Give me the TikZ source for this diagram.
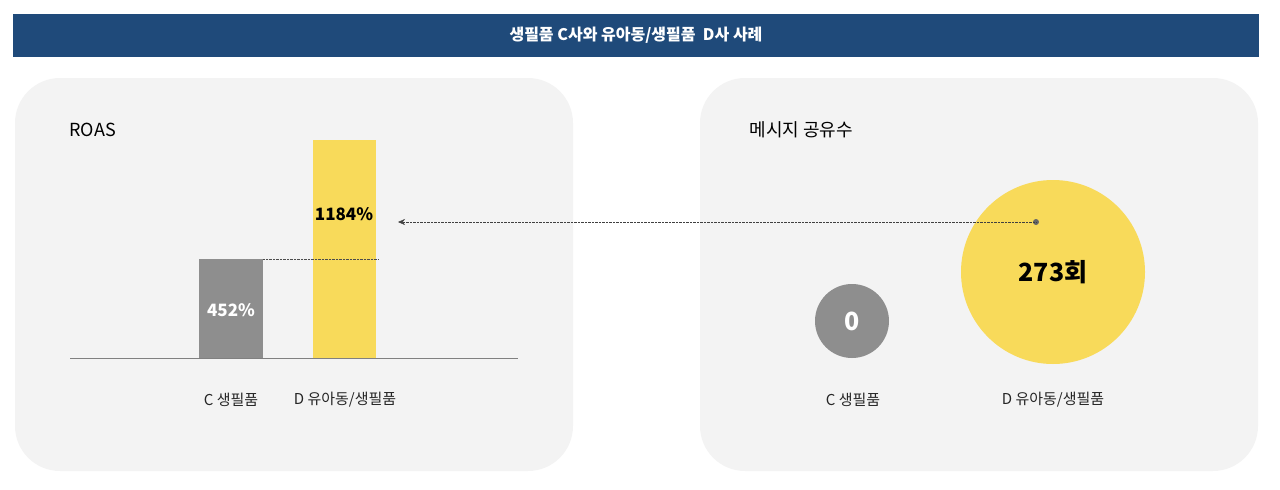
\documentclass[tikz,border=0pt]{standalone}
\usepackage{fontspec}
\setmainfont{Noto Sans CJK KR}
\usetikzlibrary{arrows.meta}
\definecolor{navy}{HTML}{1F4A7A}
\definecolor{panel}{HTML}{F3F3F3}
\definecolor{barYellow}{HTML}{F8DA5A}
\definecolor{barGray}{HTML}{8E8E8E}
\begin{document}
\begin{tikzpicture}[x=1pt,y=-1pt,
  panelbox/.style={fill=panel,draw=none,rounded corners=45pt},
  lab/.style={font=\fontsize{15}{17}\selectfont,text=black!85},
  val/.style={font=\bfseries\fontsize{17}{19}\selectfont}]
\useasboundingbox (0,0) rectangle (1280,490);
\fill[navy] (13,14) rectangle (1259,57);
\node[text=white,font=\bfseries\fontsize{16}{18}\selectfont] (title) at (636,35.5) {생필품 C사와 유아동/생필품\ \ D사 사례};
\path[panelbox] (15,78) rectangle (573,471);
\path[panelbox] (700,78) rectangle (1258,471);
\node[anchor=west,font=\fontsize{18}{20}\selectfont] (roas) at (66,130) {ROAS};
\draw[gray,line width=0.8pt] (70,358) -- (518,358);
\fill[barGray] (199,259) rectangle (263,358);
\fill[barYellow] (313,140) rectangle (376,358);
\draw[densely dotted,black!70] (263,259) -- (378,259);
\node[val,text=white] (v1) at (231,310) {452\%};
\node[val] (v2) at (344,214) {1184\%};
\node[lab] (c1) at (231,400) {C 생필품};
\node[lab] (d1) at (345,400) {D 유아동/생필품};
\node[anchor=west,font=\fontsize{18}{20}\selectfont] (msg) at (746,130) {메시지 공유수};
\node[circle,fill=barGray,minimum size=74pt,inner sep=0pt,text=white,font=\bfseries\fontsize{25}{27}\selectfont] (s) at (852,321) {0};
\node[circle,fill=barYellow,minimum size=184pt,inner sep=0pt,font=\bfseries\fontsize{25}{27}\selectfont] (b) at (1053,272) {273회};
\node[lab] (c2) at (853,400) {C 생필품};
\node[lab] (d2) at (1053,400) {D 유아동/생필품};
\coordinate (dot) at (1036,222);
\coordinate (tip) at (398,222);
\fill[black!60] (dot) circle (3pt);
\draw[densely dotted,black!75,-{Stealth[length=7pt,width=6pt]}] (dot) -- (tip);
\end{tikzpicture}
\end{document}
